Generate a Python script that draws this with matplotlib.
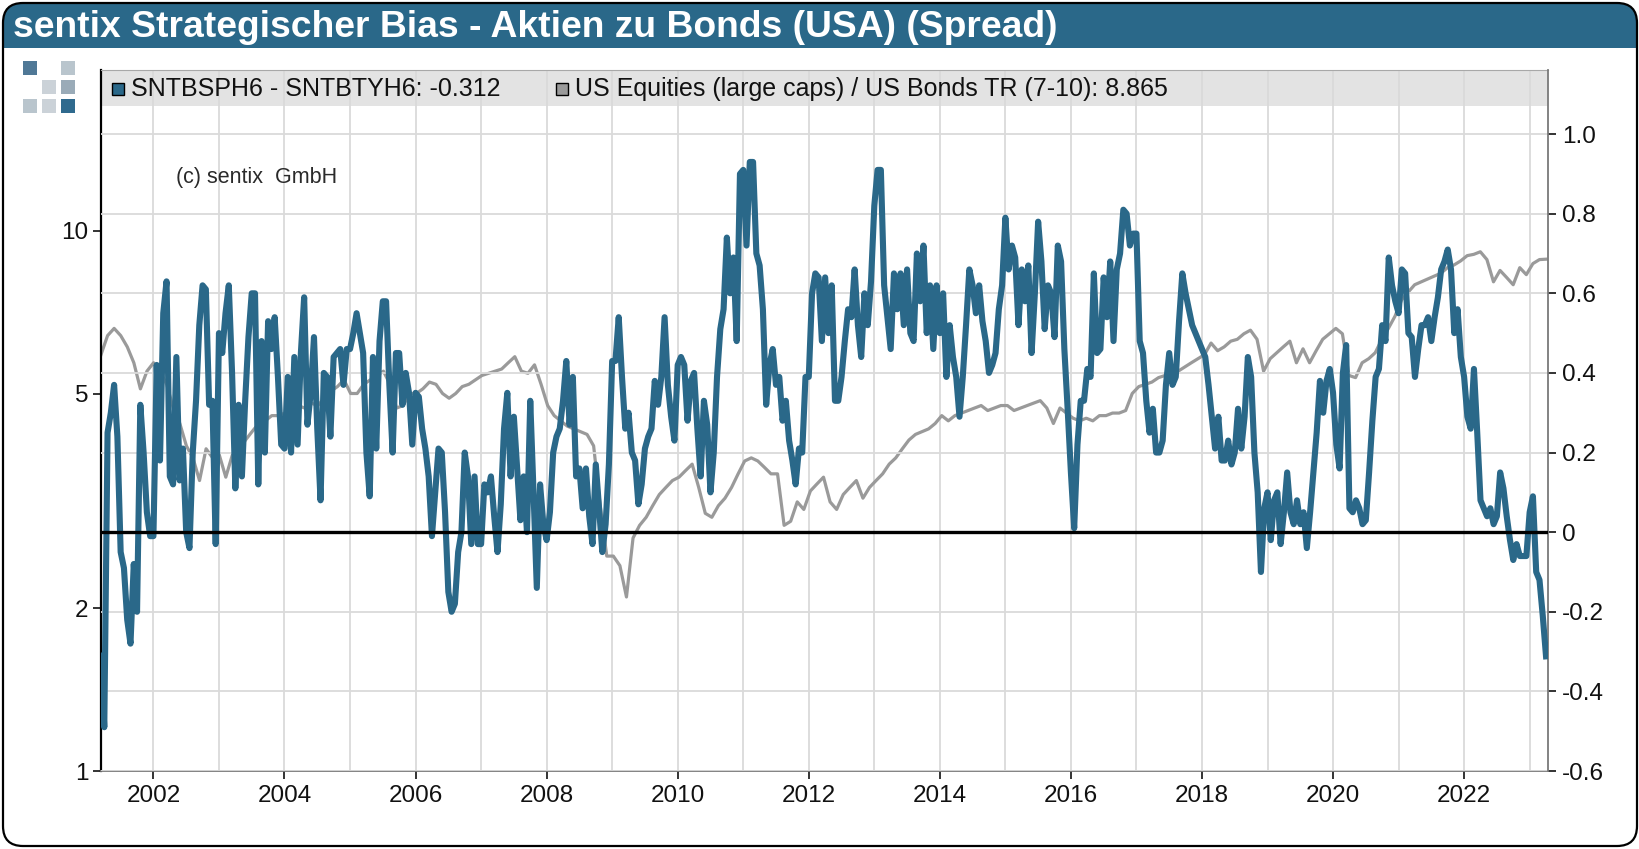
import numpy as np
import matplotlib
matplotlib.use("Agg")
import matplotlib.pyplot as plt
from matplotlib.patches import FancyBboxPatch, Rectangle
from matplotlib.transforms import IdentityTransform
from matplotlib.ticker import FixedLocator, NullLocator

plt.rcParams["font.family"] = ["Liberation Sans", "DejaVu Sans"]

# ── Texts ─────────────────────────────────────────────────────────
TITLE = "sentix Strategischer Bias - Aktien zu Bonds (USA) (Spread)"
SPREAD_LABEL = "SNTBSPH6 - SNTBTYH6: -0.312"
RATIO_LABEL = "US Equities (large caps) / US Bonds TR (7-10): 8.865"
COPYRIGHT = "(c) sentix  GmbH"

# ── Data ──────────────────────────────────────────────────────────
# spread, right axis: one reading every 0.05 years, 2001.20 .. 2023.25
spread = [
    -0.31, -0.49, 0.25, 0.3, 0.37, 0.24, -0.05, -0.09, -0.22, -0.28, -0.08, -0.2, 0.32, 0.2, 0.05, -0.01,  # 2001
    -0.01, 0.42, 0.18, 0.55, 0.63, 0.14, 0.12, 0.44, 0.13, 0.21, 0.0, -0.04, 0.2, 0.33, 0.52, 0.62, 0.61, 0.32, 0.33, -0.03,  # 2002
    0.5, 0.45, 0.55, 0.62, 0.4, 0.11, 0.32, 0.14, 0.33, 0.49, 0.6, 0.6, 0.12, 0.48, 0.2, 0.53, 0.46, 0.54, 0.39, 0.22,  # 2003
    0.21, 0.39, 0.2, 0.44, 0.22, 0.45, 0.59, 0.27, 0.35, 0.49, 0.26, 0.08, 0.4, 0.39, 0.24, 0.44, 0.45, 0.46, 0.37, 0.46,  # 2004
    0.46, 0.5, 0.55, 0.5, 0.45, 0.2, 0.09, 0.44, 0.21, 0.48, 0.58, 0.58, 0.37, 0.2, 0.45, 0.45, 0.32, 0.4, 0.35, 0.22,  # 2005
    0.35, 0.34, 0.26, 0.21, 0.14, -0.01, 0.1, 0.21, 0.2, 0.05, -0.15, -0.2, -0.18, -0.05, 0.0, 0.2, 0.14, -0.03, 0.14, -0.03,  # 2006
    -0.03, 0.12, 0.1, 0.14, 0.04, -0.05, 0.07, 0.26, 0.35, 0.14, 0.29, 0.16, 0.03, 0.14, 0.0, 0.33, 0.1, -0.14, 0.12, 0.02,  # 2007
    -0.02, 0.05, 0.2, 0.24, 0.26, 0.33, 0.43, 0.27, 0.39, 0.14, 0.16, 0.06, 0.16, 0.04, -0.03, 0.17, 0.06, -0.05, 0.02, 0.17,  # 2008
    0.43, 0.43, 0.54, 0.39, 0.26, 0.3, 0.2, 0.18, 0.07, 0.12, 0.21, 0.24, 0.26, 0.38, 0.32, 0.39, 0.54, 0.37, 0.29, 0.23,  # 2009
    0.42, 0.44, 0.42, 0.28, 0.38, 0.4, 0.26, 0.14, 0.33, 0.27, 0.1, 0.2, 0.39, 0.51, 0.56, 0.74, 0.6, 0.69, 0.48, 0.9,  # 2010
    0.91, 0.72, 0.93, 0.93, 0.7, 0.67, 0.56, 0.32, 0.42, 0.46, 0.37, 0.39, 0.28, 0.33, 0.23, 0.18, 0.12, 0.21, 0.2, 0.39,  # 2011
    0.39, 0.6, 0.65, 0.64, 0.48, 0.64, 0.5, 0.62, 0.33, 0.33, 0.39, 0.48, 0.56, 0.54, 0.66, 0.52, 0.44, 0.6, 0.52, 0.63,  # 2012
    0.82, 0.91, 0.91, 0.62, 0.54, 0.46, 0.65, 0.56, 0.65, 0.52, 0.66, 0.5, 0.48, 0.7, 0.58, 0.72, 0.5, 0.62, 0.46, 0.62,  # 2013
    0.5, 0.6, 0.39, 0.52, 0.44, 0.39, 0.29, 0.39, 0.52, 0.66, 0.62, 0.55, 0.62, 0.53, 0.48, 0.4, 0.42, 0.45, 0.56, 0.62,  # 2014
    0.79, 0.66, 0.72, 0.69, 0.52, 0.66, 0.58, 0.67, 0.45, 0.6, 0.78, 0.68, 0.51, 0.62, 0.6, 0.49, 0.72, 0.68, 0.46, 0.31,  # 2015
    0.15, 0.01, 0.22, 0.33, 0.33, 0.41, 0.39, 0.65, 0.45, 0.46, 0.64, 0.54, 0.68, 0.48, 0.66, 0.7, 0.81, 0.8, 0.72, 0.75,  # 2016
    0.75, 0.48, 0.45, 0.33, 0.25, 0.31, 0.2, 0.2, 0.23, 0.37, 0.45, 0.37, 0.39, 0.53, 0.65, 0.6, 0.56, 0.52, 0.5, 0.48,  # 2017
    0.46, 0.44, 0.37, 0.29, 0.21, 0.29, 0.18, 0.18, 0.23, 0.17, 0.2, 0.31, 0.21, 0.29, 0.44, 0.39, 0.2, 0.1, -0.1, 0.06,  # 2018
    0.1, -0.02, 0.08, 0.1, -0.03, 0.05, 0.15, 0.05, 0.02, 0.08, 0.02, 0.05, -0.04, 0.05, 0.15, 0.25, 0.38, 0.3, 0.38, 0.41,  # 2019
    0.35, 0.22, 0.16, 0.4, 0.47, 0.06, 0.05, 0.08, 0.06, 0.02, 0.03, 0.15, 0.28, 0.39, 0.41, 0.52, 0.48, 0.69, 0.62, 0.58,  # 2020
    0.55, 0.66, 0.65, 0.5, 0.49, 0.39, 0.46, 0.52, 0.52, 0.54, 0.48, 0.54, 0.59, 0.66, 0.68, 0.71, 0.66, 0.5, 0.56, 0.44,  # 2021
    0.39, 0.29, 0.26, 0.41, 0.25, 0.08, 0.06, 0.04, 0.06, 0.02, 0.04, 0.15, 0.11, 0.04, -0.02, -0.07, -0.03, -0.06, -0.06, -0.06,  # 2022
    0.05, 0.09, -0.1, -0.12, -0.21, -0.312,  # 2023
]

# equities / bonds ratio, left log axis: one reading every ~0.1 years
ratio = [
    5.9, 6.4, 6.6, 6.4, 6.1, 5.7, 5.1, 5.5,  # 2001
    5.7, 5.5, 5.2, 4.7, 4.4, 4.0, 3.8, 3.45, 3.95, 3.8,  # 2002
    3.85, 3.5, 3.85, 3.95, 4.1, 4.25, 4.4, 4.45, 4.55, 4.55,  # 2003
    4.6, 4.7, 4.75, 4.7, 4.8, 4.75, 4.9, 5.05, 5.15, 5.3,  # 2004
    5.0, 5.0, 5.2, 5.3, 5.4, 5.5, 5.2, 4.7, 4.75, 5.0,  # 2005
    5.0, 5.1, 5.25, 5.2, 5.0, 4.9, 5.0, 5.15, 5.2, 5.3,  # 2006
    5.4, 5.45, 5.5, 5.55, 5.7, 5.85, 5.5, 5.45, 5.65, 5.2,  # 2007
    4.75, 4.55, 4.45, 4.35, 4.3, 4.25, 4.2, 4.0, 3.1, 2.5,  # 2008
    2.5, 2.4, 2.1, 2.7, 2.85, 2.95, 3.1, 3.25, 3.35, 3.45,  # 2009
    3.5, 3.6, 3.7, 3.35, 3.0, 2.95, 3.1, 3.2, 3.35, 3.55,  # 2010
    3.75, 3.8, 3.75, 3.65, 3.55, 3.55, 2.85, 2.9, 3.15, 3.05,  # 2011
    3.3, 3.4, 3.5, 3.15, 3.05, 3.25, 3.35, 3.45, 3.2, 3.35,  # 2012
    3.45, 3.55, 3.7, 3.8, 3.95, 4.1, 4.2, 4.25, 4.3, 4.4,  # 2013
    4.55, 4.45, 4.55, 4.6, 4.65, 4.7, 4.75, 4.65, 4.7, 4.75,  # 2014
    4.75, 4.65, 4.7, 4.75, 4.8, 4.85, 4.7, 4.4, 4.7, 4.6,  # 2015
    4.5, 4.45, 4.5, 4.45, 4.55, 4.55, 4.6, 4.6, 4.65, 5.0,  # 2016
    5.15, 5.2, 5.25, 5.35, 5.4, 5.45, 5.5, 5.6, 5.7, 5.8,  # 2017
    5.9, 6.2, 6.0, 6.1, 6.25, 6.3, 6.45, 6.55, 6.3, 5.5,  # 2018
    5.8, 5.95, 6.1, 6.25, 5.7, 6.05, 5.7, 6.0, 6.3, 6.45,  # 2019
    6.6, 6.45, 5.4, 5.35, 5.7, 5.8, 5.95, 6.3, 6.6, 6.95,  # 2020
    7.45, 7.7, 7.95, 8.05, 8.15, 8.25, 8.35, 8.55, 8.65, 8.8,  # 2021
    9.0, 9.05, 9.15, 8.85, 8.05, 8.45, 8.2, 7.95, 8.55, 8.3,  # 2022
    8.7, 8.85, 8.865,  # 2023
]

first_year, last_year = 2001.2, 2023.25
year_ticks = list(range(2002, 2023, 2))
year_grid = list(range(2002, 2024))
right_ticks = [-0.6, -0.4, -0.2, 0, 0.2, 0.4, 0.6, 0.8, 1.0]
right_labels = ["-0.6", "-0.4", "-0.2", "0", "0.2", "0.4", "0.6", "0.8", "1.0"]
left_ticks = [1, 2, 5, 10]
left_labels = ["1", "2", "5", "10"]

BLUE = "#2a6889"
GRAY = "#9a9a9a"
GRID = "#dadada"

# ── Figure ────────────────────────────────────────────────────────
W, H = 1640, 849
fig = plt.figure(figsize=(W / 100, H / 100), dpi=100)
px = IdentityTransform()

# title bar with rounded top corners
fig.add_artist(FancyBboxPatch((3, H - 48), W - 6, 45, boxstyle="round,pad=0,rounding_size=20",
                              transform=px, facecolor=BLUE, edgecolor="none"))
fig.add_artist(Rectangle((3, H - 48), W - 6, 22, transform=px, facecolor=BLUE, edgecolor="none"))
fig.text(13 / W, (H - 37) / H, TITLE, color="white", fontsize=26.8, fontweight="bold", va="baseline")

# outer frame
fig.add_artist(FancyBboxPatch((3, 3), W - 6, H - 6, boxstyle="round,pad=0,rounding_size=20",
                              transform=px, facecolor="none", edgecolor="black", linewidth=1.6))

# logo squares
logo = [(0, 0, "#4f7896"), (2, 0, "#b9c5cd"), (1, 1, "#cbd2d8"), (2, 1, "#9aabb8"),
        (0, 2, "#b9c5cd"), (1, 2, "#cbd2d8"), (2, 2, "#2f6a8e")]
for col, row, c in logo:
    x0 = 23 + col * 19
    y0 = 61 + row * 19
    fig.add_artist(Rectangle((x0, H - y0 - 14), 14, 14, transform=px, facecolor=c, edgecolor="none"))

# ── Axes ──────────────────────────────────────────────────────────
left, right, top, bottom = 101, 1548, 70, 771
ax = fig.add_axes([left / W, 1 - bottom / H, (right - left) / W, (bottom - top) / H])
ax2 = ax.twinx()

x_ratio = np.linspace(first_year, last_year, len(ratio))
x_spread = np.linspace(first_year, last_year, len(spread))

ax.plot(x_ratio, ratio, color=GRAY, lw=2.3, zorder=2)
ax.set_yscale("log")
ax.set_ylim(1, 19.86)
ax.yaxis.set_major_locator(FixedLocator(left_ticks))
ax.yaxis.set_minor_locator(NullLocator())
ax.set_yticklabels(left_labels)
ax.set_xlim(first_year, last_year + 0.03)
ax.set_xticks(year_ticks)
ax.set_xticklabels([str(y) for y in year_ticks])
ax.xaxis.set_minor_locator(FixedLocator(year_grid))
ax.set_axisbelow(True)
ax.grid(axis="x", which="both", color=GRID, lw=1.3)

ax2.plot(x_spread, spread, color=BLUE, lw=4.4, zorder=3)
ax2.axhline(0, color="black", lw=2.4, zorder=4)
ax2.set_ylim(-0.6, 1.161)
ax2.set_yticks(right_ticks)
ax2.set_yticklabels(right_labels)
ax2.set_axisbelow(True)
ax2.grid(axis="y", color=GRID, lw=1.3)

# legend band along the top of the plot
ax.add_patch(Rectangle((0, 1 - 36 / 701), 1, 36 / 701, transform=ax.transAxes,
                       facecolor="#e3e3e3", edgecolor="none", zorder=0.2))

for a in (ax, ax2):
    a.tick_params(axis="both", which="major", direction="out", length=6, width=1.2,
                  labelsize=17.5, colors="#111111")
    a.tick_params(axis="x", which="minor", length=0)
ax.tick_params(axis="y", pad=3)
ax2.tick_params(axis="y", pad=4)
ax.tick_params(axis="x", pad=4)

ax.spines["left"].set_color("black")
ax.spines["left"].set_linewidth(1.6)
ax.spines["bottom"].set_color("#7a7a7a")
ax.spines["bottom"].set_linewidth(1.3)
ax.spines["top"].set_color("#a8a8a8")
ax.spines["right"].set_visible(False)
for s in ("left", "bottom", "top"):
    ax2.spines[s].set_visible(False)
ax2.spines["right"].set_color("#7a7a7a")
ax2.spines["right"].set_linewidth(1.3)

# legend items
for x0, label, c in [(112, SPREAD_LABEL, BLUE), (556, RATIO_LABEL, GRAY)]:
    fig.add_artist(Rectangle((x0, H - 95), 12, 12, transform=px, facecolor=c,
                             edgecolor="black", linewidth=1.0))
    fig.text((x0 + 19) / W, (H - 89) / H, label, fontsize=18, va="center", color="#111111")

fig.text(176 / W, (H - 178) / H, COPYRIGHT, fontsize=15.5, va="center", color="#2a2a2a")

fig.savefig("out.png", dpi=100)
